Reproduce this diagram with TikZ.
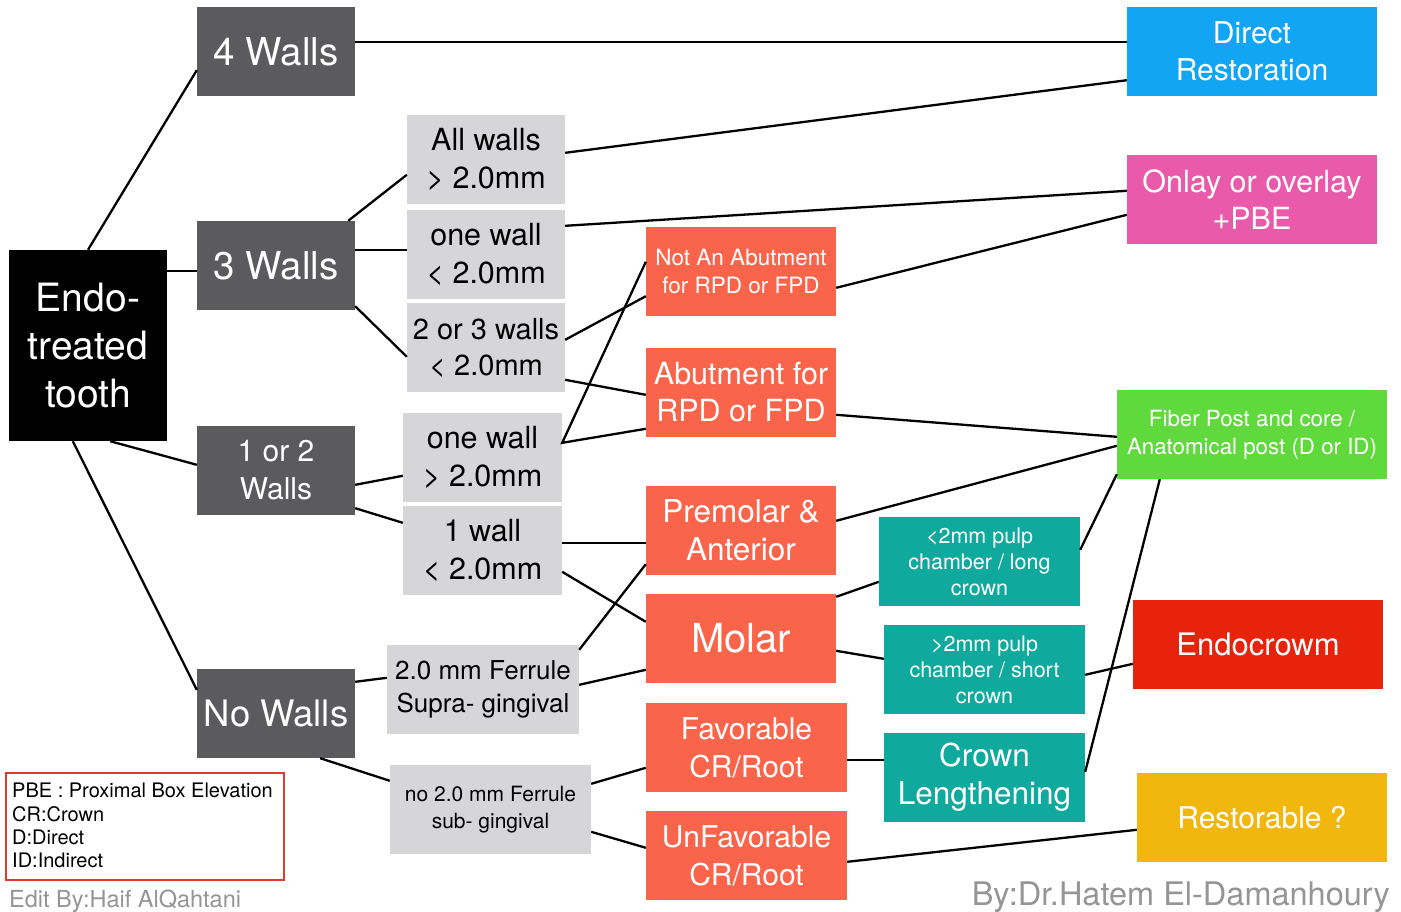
\documentclass[tikz,border=0pt]{standalone}
\usepackage{fontspec}
\setmainfont{TeX Gyre Heros}
\usetikzlibrary{calc}
\definecolor{dkgrey}{HTML}{5B5B5D}
\definecolor{ltgrey}{HTML}{D6D6D8}
\definecolor{salmon}{HTML}{FA644B}
\definecolor{dblue}{HTML}{12A5F4}
\definecolor{pinkc}{HTML}{E95BAA}
\definecolor{greenc}{HTML}{5FD93B}
\definecolor{tealc}{HTML}{0FA99D}
\definecolor{redc}{HTML}{E8230C}
\definecolor{yellowc}{HTML}{F2B70F}
\definecolor{legred}{HTML}{E03A2E}
\definecolor{footgrey}{HTML}{959595}
\newcommand{\fs}[2]{\fontsize{#1}{#2}\selectfont}
\tikzset{
  box/.style={rectangle, inner sep=0pt, align=center, text=white},
  dk/.style={box, fill=dkgrey, minimum width=158pt, minimum height=89pt},
  lt/.style={box, fill=ltgrey, text=black, minimum height=89pt, font=\fs{30.5}{38}},
  sal/.style={box, fill=salmon, minimum height=89pt},
  col/.style={box, minimum height=89pt},
  conn/.style={draw=black, line width=2.3pt},
}
\begin{document}
\begin{tikzpicture}[x=1pt,y=-1pt]
\useasboundingbox (0,0) rectangle (1401,911);
\fill[white] (0,0) rectangle (1401,911);
% dark grey
\node[dk, font=\fs{38.5}{44}] (w4) at (276,51.5) {4 Walls};
\node[box, fill=black, minimum width=158pt, minimum height=191pt, font=\fs{39}{48}] (endo) at (88,345.5) {Endo-\\treated\\tooth};
\node[dk, font=\fs{38.5}{44}] (w3) at (276,265.5) {3 Walls};
\node[dk, font=\fs{30}{38}] (w12) at (276,470.5) {1 or 2\\Walls};
\node[dk, font=\fs{36.5}{44}] (w0) at (276,713.5) {No Walls};
% light grey
\node[lt, minimum width=158pt] (allw) at (486,159.5) {All walls\\> 2.0mm};
\node[lt, minimum width=158pt] (one3) at (486,254.5) {one wall\\< 2.0mm};
\node[lt, minimum width=158pt, font=\fs{29}{36}] (two3) at (486,347.5) {2 or 3 walls\\< 2.0mm};
\node[lt, minimum width=159pt] (oneg) at (482.5,457.5) {one wall\\> 2.0mm};
\node[lt, minimum width=159pt] (onel) at (482.5,550.5) {1 wall\\< 2.0mm};
\node[lt, minimum width=192pt, font=\fs{26}{33}] (fer) at (483,689.5) {2.0 mm Ferrule\\Supra- gingival};
\node[lt, minimum width=201pt, font=\fs{21}{27}] (nofer) at (490.5,809.5) {no 2.0 mm Ferrule\\sub- gingival};
% salmon
\node[sal, minimum width=190pt, font=\fs{22.5}{28}] (notab) at (741,271.5) {Not An Abutment\\for RPD or FPD};
\node[sal, minimum width=190pt, font=\fs{30.5}{37}] (abut) at (741,392.5) {Abutment for\\RPD or FPD};
\node[sal, minimum width=190pt, font=\fs{31.5}{38}] (prem) at (741,530.5) {Premolar \&\\Anterior};
\node[sal, minimum width=190pt, font=\fs{40}{44}] (molar) at (741,638.5) {Molar};
\node[sal, minimum width=201pt, font=\fs{30}{38}] (fav) at (746.5,747.5) {Favorable\\CR/Root};
\node[sal, minimum width=201pt, font=\fs{30}{38}] (unfav) at (746.5,855.5) {UnFavorable\\CR/Root};
% right column
\node[col, fill=dblue, minimum width=250pt, font=\fs{30}{37}] (direct) at (1252,51.5) {Direct\\Restoration};
\node[col, fill=pinkc, minimum width=250pt, font=\fs{30.5}{37}] (onlay) at (1252,199.5) {Onlay or overlay\\+PBE};
\node[col, fill=greenc, minimum width=270pt, font=\fs{22.3}{28}] (fiber) at (1252,434.5) {Fiber Post and core /\\Anatomical post (D or ID)};
\node[col, fill=tealc, minimum width=201pt, font=\fs{21.5}{26}] (lt2) at (979.5,561.5) {<2mm pulp\\chamber / long\\crown};
\node[col, fill=tealc, minimum width=201pt, font=\fs{21.5}{26}] (gt2) at (984.5,669.5) {>2mm pulp\\chamber / short\\crown};
\node[col, fill=tealc, minimum width=201pt, font=\fs{31.5}{38}] (crown) at (984.5,777.5) {Crown\\Lengthening};
\node[col, fill=redc, minimum width=250pt, font=\fs{31}{38}] (endoc) at (1258,644.5) {Endocrowm};
\node[col, fill=yellowc, minimum width=250pt, font=\fs{30}{38}] (restor) at (1262,817.5) {Restorable ?};
% legend
\node[rectangle, draw=legred, line width=2pt, minimum width=278pt, minimum height=107pt, inner sep=0pt] (legend) at (145,826.5) {};
\node[anchor=north west, align=left, inner sep=0pt, font=\fs{20}{23.3}, text=black] (legtext) at ($(legend.north west)+(7,11)$) {PBE : Proximal Box Elevation\\CR:Crown\\D:Direct\\ID:Indirect};
\node[anchor=base west, inner sep=0pt, text=footgrey, font=\fs{23.5}{26}] (edit) at (9,907) {Edit By:Haif AlQahtani};
\node[anchor=base east, inner sep=0pt, text=footgrey, font=\fs{32.5}{34}] (by) at (1390,905) {By:Dr.Hatem El-Damanhoury};
% connectors
\draw[conn] (endo.north) -- ($(w4.south west)+(0,-26)$);
\draw[conn] ($(endo.north east)+(0,21)$) -- ($(w3.north west)+(0,50)$);
\draw[conn] ($(endo.south east)+(-57,0)$) -- ($(w12.north west)+(0,39)$);
\draw[conn] ($(endo.south west)+(64,0)$) -- ($(w0.north west)+(0,21)$);
\draw[conn] ($(w4.north east)+(0,35)$) -- ($(direct.north west)+(0,35)$);
\draw[conn] ($(w3.north east)+(-7,0)$) -- ($(allw.north west)+(0,60)$);
\draw[conn] ($(w3.north east)+(0,29)$) -- ($(one3.north west)+(0,40)$);
\draw[conn] ($(w3.south east)+(0,-4)$) -- ($(two3.north west)+(0,54)$);
\draw[conn] ($(allw.north east)+(0,38)$) -- ($(direct.south west)+(0,-16)$);
\draw[conn] ($(one3.north east)+(0,16)$) -- ($(onlay.north west)+(0,36)$);
\draw[conn] ($(two3.north east)+(0,37)$) -- ($(notab.south west)+(0,-20)$);
\draw[conn] ($(two3.north east)+(0,77)$) -- ($(abut.north west)+(0,47)$);
\draw[conn] ($(notab.north east)+(0,61)$) -- ($(onlay.north west)+(0,60)$);
\draw[conn] ($(notab.north west)+(0,35)$) -- ($(oneg.north east)+(0,30)$) -- ($(abut.north west)+(0,81)$);
\draw[conn] ($(abut.north east)+(0,67)$) -- ($(fiber.north west)+(0,47)$);
\draw[conn] ($(w12.north east)+(0,59)$) -- ($(oneg.north west)+(0,63)$);
\draw[conn] ($(w12.south east)+(0,-7)$) -- ($(onel.north west)+(0,17)$);
\draw[conn] ($(onel.north east)+(0,37)$) -- ($(prem.north west)+(0,57)$);
\draw[conn] ($(onel.north east)+(0,66)$) -- ($(molar.north west)+(0,28)$);
\draw[conn] ($(fer.north east)+(0,5)$) -- ($(prem.south west)+(0,-11)$);
\draw[conn] ($(fer.north east)+(0,40)$) -- ($(molar.north west)+(0,76)$);
\draw[conn] ($(w0.north east)+(0,13)$) -- ($(fer.north west)+(0,33)$);
\draw[conn] ($(w0.south east)+(-35,0)$) -- ($(nofer.north west)+(0,16)$);
\draw[conn] ($(nofer.north east)+(0,19)$) -- ($(fav.north west)+(0,65)$);
\draw[conn] ($(nofer.north east)+(0,67)$) -- ($(unfav.north west)+(0,37)$);
\draw[conn] ($(prem.north east)+(0,35)$) -- ($(fiber.north west)+(0,56)$);
\draw[conn] ($(molar.north east)+(0,3)$) -- ($(lt2.north west)+(0,65)$);
\draw[conn] ($(molar.north east)+(0,57)$) -- ($(gt2.north west)+(0,34)$);
\draw[conn] ($(lt2.north east)+(0,33)$) -- ($(fiber.south west)+(0,-5)$);
\draw[conn] ($(gt2.north east)+(0,50)$) -- ($(endoc.north west)+(0,64)$);
\draw[conn] ($(crown.north east)+(0,39)$) -- ($(fiber.south west)+(43,0)$);
\draw[conn] ($(fav.north east)+(0,57)$) -- ($(crown.north west)+(0,27)$);
\draw[conn] ($(unfav.north east)+(0,51)$) -- ($(restor.north west)+(0,57)$);
\end{tikzpicture}
\end{document}
